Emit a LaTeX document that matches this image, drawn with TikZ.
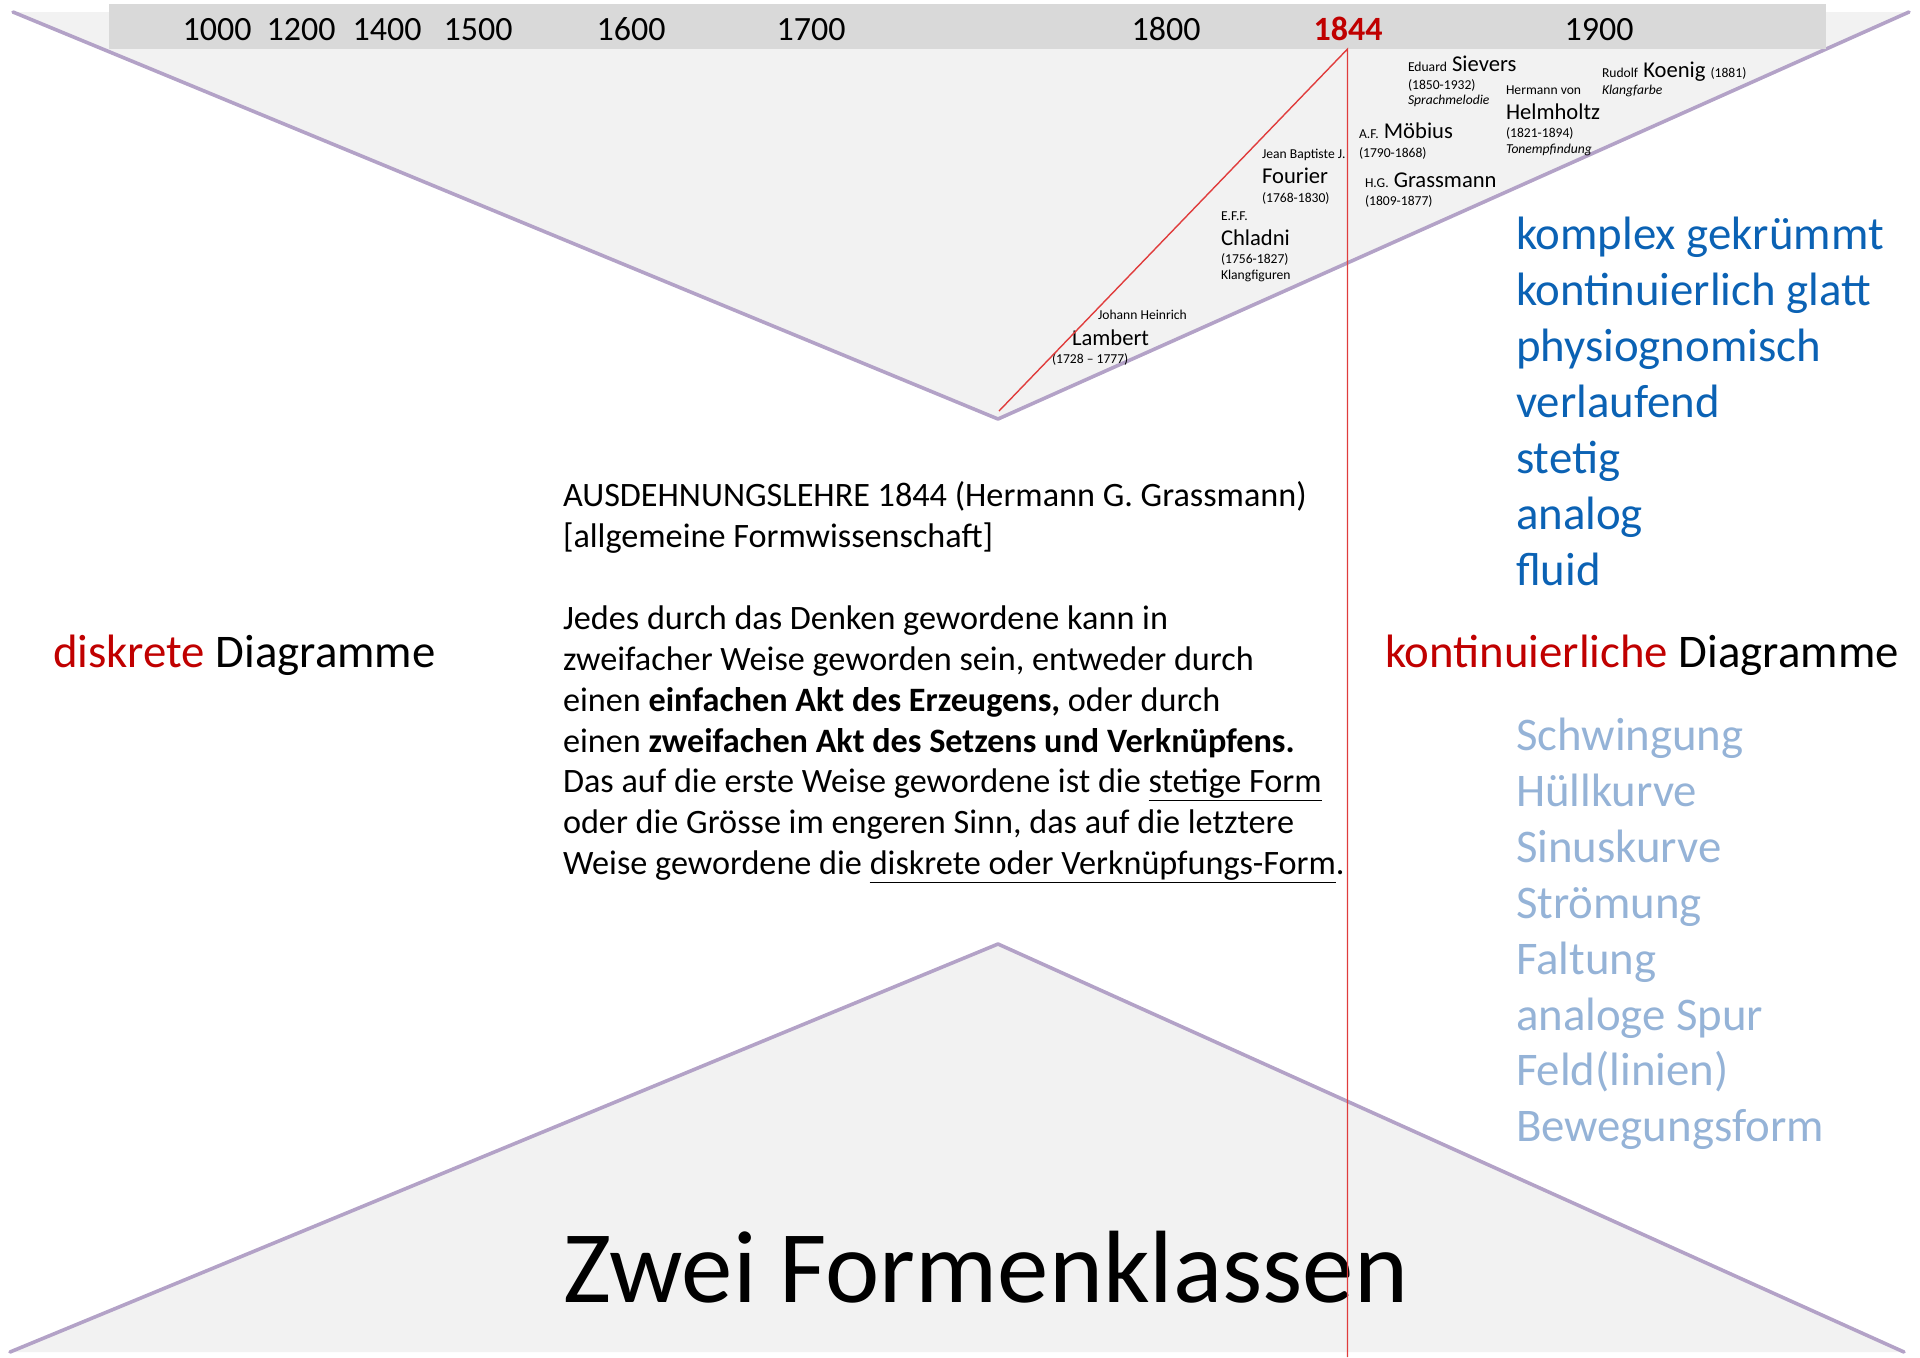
\documentclass[tikz,border=0pt]{standalone}
\usepackage{fontspec}
\setmainfont{Carlito}
\definecolor{bandgray}{HTML}{D9D9D9}
\definecolor{panegray}{HTML}{F2F2F2}
\definecolor{lilac}{HTML}{B3A2C7}
\definecolor{darkred}{HTML}{C00000}
\definecolor{lineRed}{HTML}{E03C3C}
\definecolor{deepblue}{HTML}{0B62B4}
\definecolor{paleblue}{HTML}{95B3D7}
\newcommand\namesz{\fontsize{11.3}{13}\selectfont}
\newcommand\smallsz{\fontsize{6.8}{8}\selectfont}
\newcommand\ulin[1]{\underline{\vphantom{g}#1}}
\begin{document}
\begin{tikzpicture}[x=0.5pt,y=-0.5pt,
  every node/.style={inner sep=0pt,outer sep=0pt,anchor=base west},
  year/.style={anchor=base,font=\fontsize{17}{20}\selectfont},
  nm/.style={font=\namesz},
  sm/.style={font=\smallsz},
  smit/.style={font=\smallsz\itshape},
  body/.style={font=\fontsize{17.1}{20}\selectfont},
  head/.style={font=\fontsize{23.4}{27}\selectfont},
  dlist/.style={font=\fontsize{23.4}{28}\selectfont,text=deepblue},
  plist/.style={font=\fontsize{23.4}{28}\selectfont,text=paleblue},
  edge/.style={draw=lilac,line width=1.8pt,line cap=round,line join=round},
  redline/.style={draw=lineRed,line width=0.7pt}]
\useasboundingbox (0,0) rectangle (1920,1357);

% funnel shapes
\coordinate (tl) at (13,12);
\coordinate (tr) at (1909,12);
\coordinate (tapex) at (998,419);
\coordinate (bl) at (10,1352);
\coordinate (br) at (1904,1352);
\coordinate (bapex) at (998,944);
\fill[panegray] (tl) -- (tr) -- (tapex) -- cycle;
\draw[edge] (tl) -- (tapex) -- (tr);
\fill[panegray] (bl) -- (bapex) -- (br) -- cycle;
\draw[edge] (bl) -- (bapex) -- (br);

% timeline band
\fill[bandgray] (109,4) rectangle (1826,49);
\foreach \yr/\px in {1000/217,1200/301,1400/387,1500/478,1600/631,1700/811,1800/1166,1900/1599}
  \node[year] (y\yr) at (\px,40) {\yr};
\node[year,text=darkred,font=\fontsize{17}{20}\selectfont\bfseries] (y1844) at (1348,40) {1844};

% persons
\node[nm] (siev) at (1408,71.7) {{\smallsz Eduard} Sievers};
\node[sm] (sievd) at (1408,89) {(1850-1932)};
\node[smit] (sievw) at (1408,104) {Sprachmelodie};

\node[nm] (koen) at (1602,77) {{\smallsz Rudolf} Koenig {\smallsz(1881)}};
\node[smit] (koenw) at (1602,94) {Klangfarbe};

\node[sm] (helmf) at (1506,94) {Hermann von};
\node[nm] (helm) at (1506,119) {Helmholtz};
\node[sm] (helmd) at (1506,137) {(1821-1894)};
\node[smit] (helmw) at (1506,153) {Tonempfindung};

\node[nm] (moeb) at (1359,138) {{\smallsz A.F.} Möbius};
\node[sm] (moebd) at (1359,157) {(1790-1868)};

\node[nm] (grass) at (1365,187) {{\smallsz H.G.} Grassmann};
\node[sm] (grassd) at (1365,205) {(1809-1877)};

\node[sm] (fourf) at (1262,158) {Jean Baptiste J.};
\node[nm] (four) at (1262,183) {Fourier};
\node[sm] (fourd) at (1262,202) {(1768-1830)};

\node[sm] (chlf) at (1221,220) {E.F.F.};
\node[nm] (chl) at (1221,245) {Chladni};
\node[sm] (chld) at (1221,263) {(1756-1827)};
\node[sm] (chlw) at (1221,279) {Klangfiguren};

\node[sm] (lamf) at (1098,319) {Johann Heinrich};
\node[nm] (lam) at (1072,345) {Lambert};
\node[sm] (lamd) at (1052,363) {(1728 – 1777)};

% central quotation
\node[body] (q1) at (563,506) {AUSDEHNUNGSLEHRE 1844 (Hermann G. Grassmann)};
\node[body] (q2) at (563,547) {[allgemeine Formwissenschaft]};
\node[body] (q3) at (563,629) {Jedes durch das Denken gewordene kann in};
\node[body] (q4) at (563,670) {zweifacher Weise geworden sein, entweder durch};
\node[body] (q5) at (563,711) {einen \textbf{einfachen Akt des Erzeugens,} oder durch};
\node[body] (q6) at (563,752) {einen \textbf{zweifachen Akt des Setzens und Verknüpfens.}};
\node[body] (q7) at (563,792) {Das auf die erste Weise gewordene ist die \ulin{stetige Form}};
\node[body] (q8) at (563,833) {oder die Grösse im engeren Sinn, das auf die letztere};
\node[body] (q9) at (563,874) {Weise gewordene die \ulin{diskrete oder Verknüpfungs-Form}.};

% the two classes
\node[head] (disk) at (53,667) {\textcolor{darkred}{diskrete} Diagramme};
\node[head] (kont) at (1385,667) {\textcolor{darkred}{kontinuierliche} Diagramme};

\foreach \w [count=\i] in {komplex gekrümmt,kontinuierlich glatt,physiognomisch,verlaufend,stetig,analog,fluid}
  \node[dlist] (d\i) at (1516,{249.5+56*(\i-1)}) {\w};
\foreach \w [count=\i] in {Schwingung,Hüllkurve,Sinuskurve,Strömung,Faltung,analoge Spur,Feld(linien),Bewegungsform}
  \node[plist] (p\i) at (1516,{750.5+55.9*(\i-1)}) {\w};

\node[font=\fontsize{51.4}{60}\selectfont] (title) at (563,1302) {Zwei Formenklassen};

% 1844 markers
\coordinate (rfoot) at (999,411);
\coordinate (rtop) at (1347.5,49);
\coordinate (rbottom) at (1347.5,1357);
\draw[redline] (rfoot) -- (rtop) -- (rbottom);
\end{tikzpicture}
\end{document}
